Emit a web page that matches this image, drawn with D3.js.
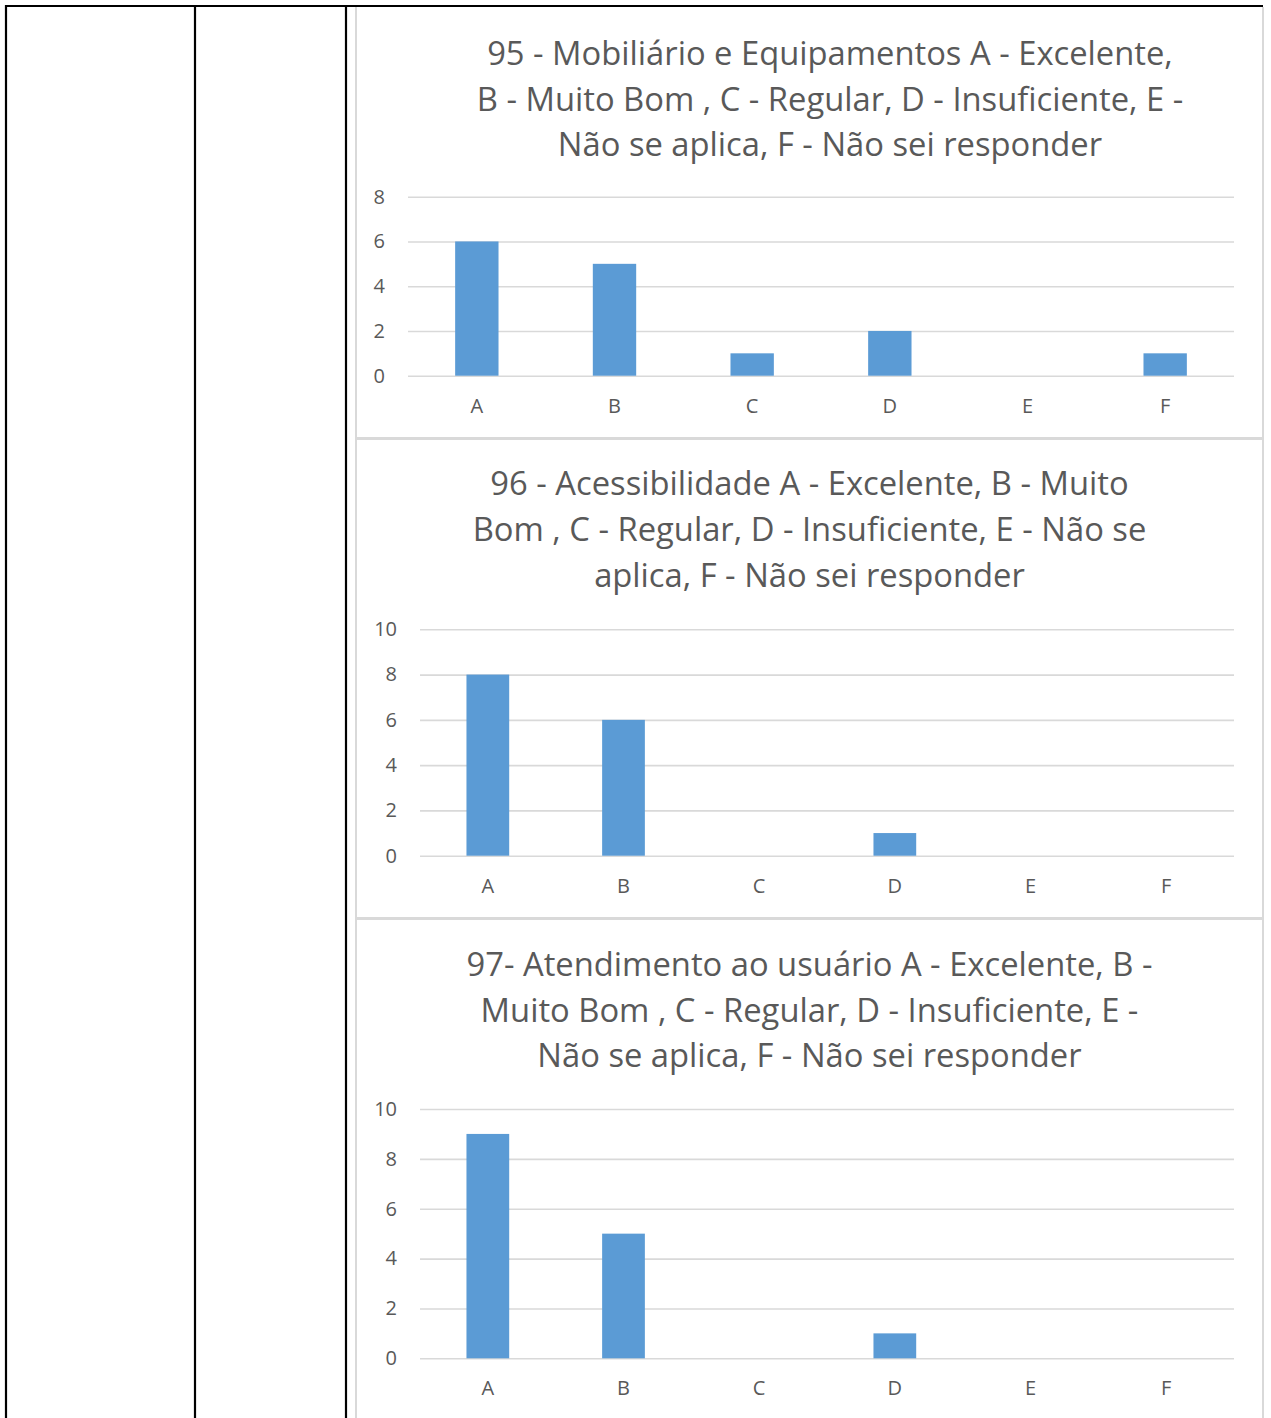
<!DOCTYPE html>
<html>
<head>
<meta charset="utf-8">
<script src="https://cdn.jsdelivr.net/npm/d3@7"></script>
<style>
  html, body { margin: 0; padding: 0; background: #fff; }
  svg { display: block; }
  text { font-family: "Open Sans", "Noto Sans", sans-serif; fill: #595959; }
</style>
</head>
<body>
<svg id="page" width="1271" height="1418"></svg>
<script>
// ---- data ----
const categories = ["A", "B", "C", "D", "E", "F"];

const title95 = ["95 - Mobiliário e Equipamentos A - Excelente,",
                 "B - Muito Bom , C - Regular, D - Insuficiente, E -",
                 "Não se aplica, F - Não sei responder"];
const values95 = [6, 5, 1, 2, 0, 1];
const ticks95 = [0, 2, 4, 6, 8];

const title96 = ["96 - Acessibilidade A - Excelente, B - Muito",
                 "Bom , C - Regular, D - Insuficiente, E - Não se",
                 "aplica, F - Não sei responder"];
const values96 = [8, 6, 0, 1, 0, 0];
const ticks96 = [0, 2, 4, 6, 8, 10];

const title97 = ["97- Atendimento ao usuário A - Excelente, B -",
                 "Muito Bom , C - Regular, D - Insuficiente, E -",
                 "Não se aplica, F - Não sei responder"];
const values97 = [9, 5, 0, 1, 0, 0];
const ticks97 = [0, 2, 4, 6, 8, 10];

// ---- layout ----
const svg = d3.select("#page");
const W = 1271, H = 1418;

const charts = [
  { title: title95, values: values95, ticks: ticks95, yMax: 8,
    plotX0: 408, plotX1: 1234, plotY0: 375.7, plotY1: 196.7,
    titleX: 830, titleY: [65, 110.5, 156] },
  { title: title96, values: values96, ticks: ticks96, yMax: 10,
    plotX0: 420, plotX1: 1234, plotY0: 855.7, plotY1: 629.3,
    titleX: 809.5, titleY: [495, 541, 587] },
  { title: title97, values: values97, ticks: ticks97, yMax: 10,
    plotX0: 420, plotX1: 1234, plotY0: 1358.3, plotY1: 1109,
    titleX: 809.5, titleY: [976, 1021.5, 1067] }
];

// measure title font size to match reference width
const probe = svg.append("text").attr("font-size", 30).text(title95[0]);
const measured = probe.node().getComputedTextLength();
probe.remove();
const titleSize = 30 * 686 / measured;

// chart frames (light gray)
const frame = svg.append("g").attr("stroke", "#d9d9d9").attr("fill", "none");
frame.append("line").attr("x1", 356).attr("x2", 356).attr("y1", 7).attr("y2", H).attr("stroke-width", 2);
frame.append("line").attr("x1", 1263).attr("x2", 1263).attr("y1", 7).attr("y2", H).attr("stroke-width", 2);
frame.append("line").attr("x1", 356).attr("x2", 1264).attr("y1", 438.5).attr("y2", 438.5).attr("stroke-width", 3);
frame.append("line").attr("x1", 356).attr("x2", 1264).attr("y1", 918.5).attr("y2", 918.5).attr("stroke-width", 3);

charts.forEach(c => {
  const g = svg.append("g");
  const x = d3.scaleBand().domain(categories).range([c.plotX0, c.plotX1])
    .paddingInner(0.685).paddingOuter(0.3425);
  const y = d3.scaleLinear().domain([0, c.yMax]).range([c.plotY0, c.plotY1]);

  // y axis with gridlines
  const yAxis = g.append("g").attr("transform", `translate(${c.plotX0},0)`)
    .call(d3.axisLeft(y).tickValues(c.ticks).tickSize(-(c.plotX1 - c.plotX0)).tickPadding(23));
  yAxis.select(".domain").remove();
  yAxis.selectAll(".tick line").attr("stroke", "#d9d9d9").attr("stroke-width", 1.6);
  yAxis.selectAll(".tick text").attr("font-size", 20).attr("fill", "#595959")
    .style("font-family", '"Open Sans", sans-serif');

  // bars
  g.append("g").selectAll("rect").data(c.values).join("rect")
    .attr("x", (d, i) => x(categories[i]))
    .attr("width", x.bandwidth())
    .attr("y", d => y(d))
    .attr("height", d => y(0) - y(d))
    .attr("fill", "#5b9bd5");

  // x axis labels
  const xAxis = g.append("g").attr("transform", `translate(0,${c.plotY0})`)
    .call(d3.axisBottom(x).tickSize(0).tickPadding(23));
  xAxis.select(".domain").remove();
  xAxis.selectAll(".tick text").attr("font-size", 20).attr("fill", "#595959")
    .style("font-family", '"Open Sans", sans-serif');

  // title
  g.append("g").selectAll("text").data(c.title).join("text")
    .attr("x", c.titleX)
    .attr("y", (d, i) => c.titleY[i])
    .attr("text-anchor", "middle")
    .attr("font-size", titleSize)
    .attr("fill", "#595959")
    .text(d => d);
});

// table borders (black)
const tbl = svg.append("g").attr("stroke", "#000").attr("stroke-width", 2.2);
tbl.append("line").attr("x1", 5).attr("x2", 1263).attr("y1", 6).attr("y2", 6);
[6, 195, 346].forEach(xx => {
  tbl.append("line").attr("x1", xx).attr("x2", xx).attr("y1", 5).attr("y2", H);
});
</script>
</body>
</html>
